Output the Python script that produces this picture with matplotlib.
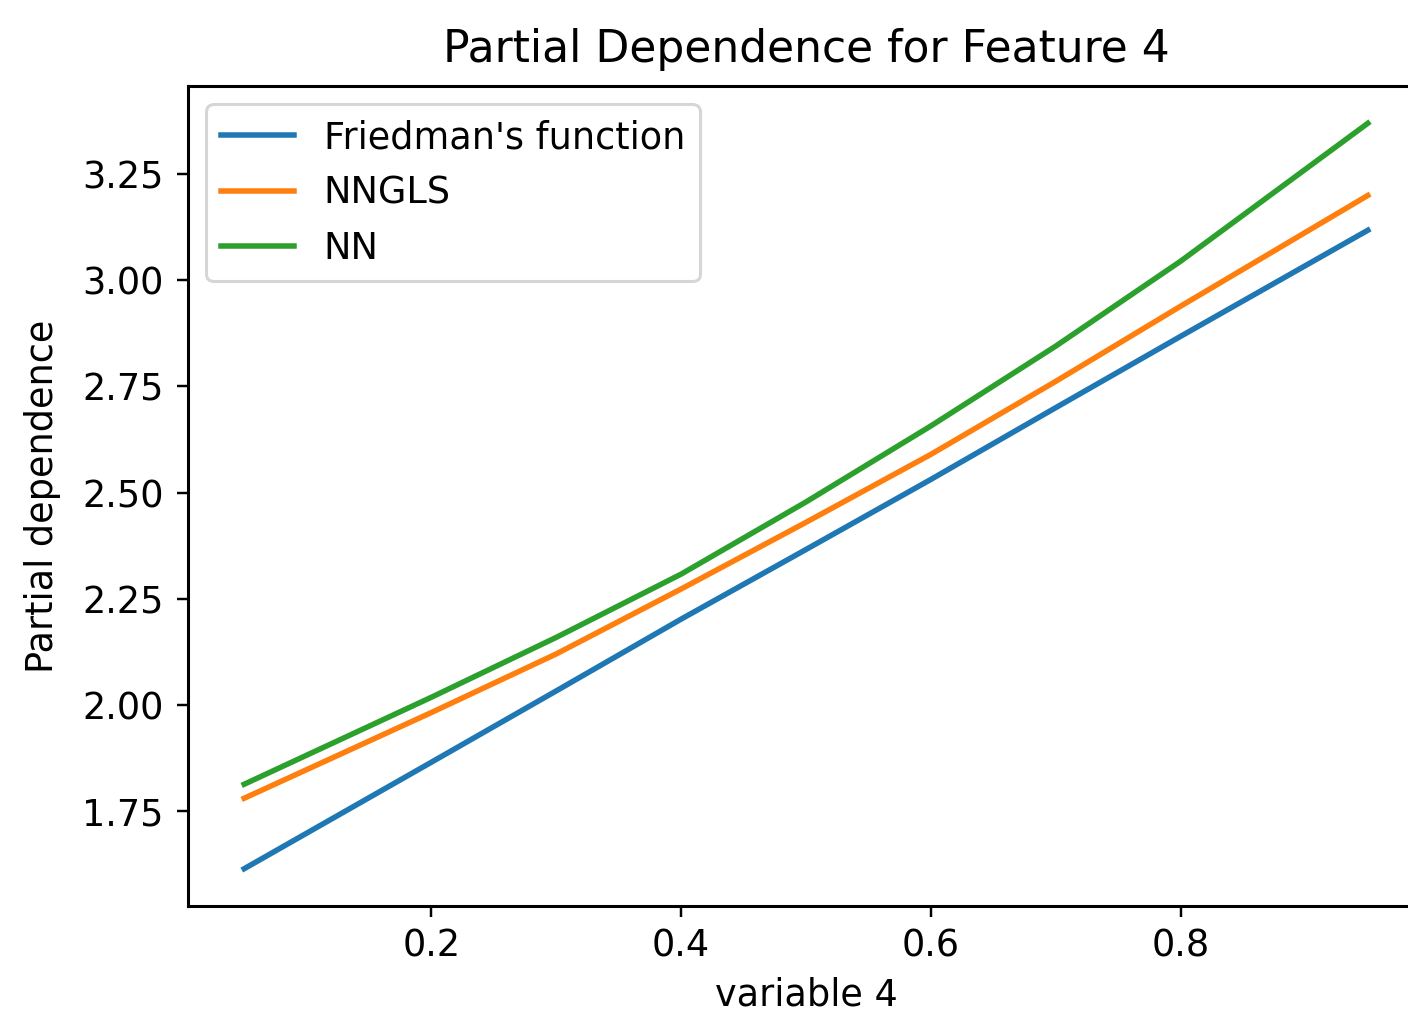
import numpy as np
import matplotlib
matplotlib.use("Agg")
import matplotlib.pyplot as plt

# values
x = [0.05, 0.2, 0.3, 0.4, 0.5, 0.6, 0.7, 0.8, 0.95]
friedman = [1.614, 1.865, 2.033, 2.202, 2.366, 2.531, 2.700, 2.868, 3.118]
nngls = [1.780, 1.982, 2.120, 2.273, 2.430, 2.590, 2.762, 2.939, 3.200]
nn = [1.813, 2.018, 2.159, 2.308, 2.478, 2.657, 2.845, 3.045, 3.370]

plt.rcParams["font.size"] = 12
plt.rcParams["lines.linewidth"] = 1.8
plt.rcParams["axes.linewidth"] = 1.0
plt.rcParams["ytick.major.pad"] = 4.5

fig = plt.figure(figsize=(1408 / 220, 1013 / 220), dpi=220)
ax = fig.add_axes([188 / 1408, 107 / 1013, 1236 / 1408, 820 / 1013])

ax.plot(x, friedman, label="Friedman's function")
ax.plot(x, nngls, label="NNGLS")
ax.plot(x, nn, label="NN")
ax.set_title("Partial Dependence for Feature 4", pad=8)
ax.set_xlabel("variable 4", labelpad=4)
ax.set_ylabel("Partial dependence", labelpad=7)
ax.legend(loc="upper left")

fig.savefig("out.png", dpi=220)
